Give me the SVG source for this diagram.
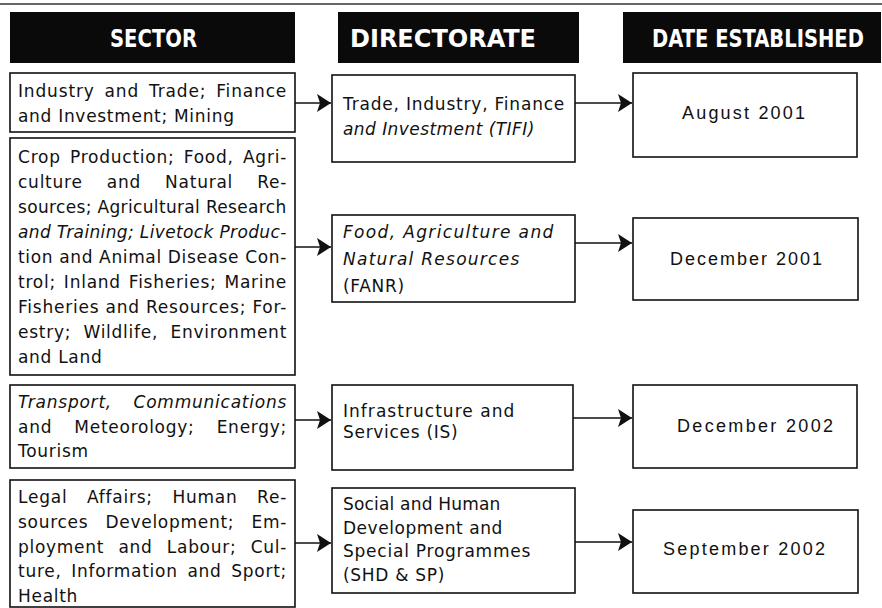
<svg xmlns="http://www.w3.org/2000/svg" width="882" height="608" viewBox="0 0 882 608">
<style>
.bg{fill:#ffffff}
.box{fill:#ffffff;stroke:#111;stroke-width:1.6}
.hdr{fill:#0a0a0a}
.ht{font-family:"DejaVu Sans Condensed","DejaVu Sans",sans-serif;font-weight:bold;font-size:24px;fill:#ffffff}
.t{font-family:"DejaVu Sans",sans-serif;font-size:17px;fill:#111;letter-spacing:0.7px}
.i{font-style:italic}
.d{font-family:"Liberation Sans",Arial,sans-serif;font-size:18px;fill:#111}
.ln{stroke:#111;stroke-width:1.6;fill:none}
</style>
<defs>
<marker id="ah" markerWidth="14" markerHeight="18" refX="14" refY="9" orient="auto" markerUnits="userSpaceOnUse">
<path d="M0,0 L14,9 L0,18 L3,9 Z" fill="#111"/>
</marker>
</defs>
<rect class="bg" x="0" y="0" width="882" height="608"/>
<line x1="0" y1="4" x2="882" y2="4" stroke="#333" stroke-width="1.5"/>

<g id="header-sector">
<rect class="hdr" x="10" y="12" width="285" height="51"/>
<text class="ht" transform="translate(110,47) scale(0.9,1)" x="0" y="0" textLength="96.7" lengthAdjust="spacingAndGlyphs">SECTOR</text>
</g>
<g id="header-directorate">
<rect class="hdr" x="338" y="12" width="241" height="51"/>
<text class="ht" transform="translate(350,47) scale(0.9,1)" x="0" y="0" textLength="206.7" lengthAdjust="spacingAndGlyphs">DIRECTORATE</text>
</g>
<g id="header-date">
<rect class="hdr" x="623" y="12" width="258" height="51"/>
<text class="ht" transform="translate(652,47) scale(0.9,1)" x="0" y="0" textLength="235.5" lengthAdjust="spacingAndGlyphs">DATE ESTABLISHED</text>
</g>

<g id="sector-1">
<rect class="box" x="10" y="73" width="285" height="59"/>
<text class="t" x="18" y="97" textLength="269" lengthAdjust="spacing" word-spacing="3.6">Industry and Trade; Finance</text>
<text class="t" x="18" y="122">and Investment; Mining</text>
</g>
<g id="sector-2">
<rect class="box" x="10" y="138" width="285" height="237"/>
<text class="t" x="18" y="163" textLength="269" lengthAdjust="spacing" word-spacing="3.1">Crop Production; Food, Agri-</text>
<text class="t" x="18" y="188" textLength="269" lengthAdjust="spacing" word-spacing="17.9">culture and Natural Re-</text>
<text class="t" x="18" y="213" textLength="269" lengthAdjust="spacing">sources; Agricultural Research</text>
<text class="t i" x="18" y="238" textLength="269" lengthAdjust="spacing">and Training; Livetock Produc-</text>
<text class="t" x="18" y="263" textLength="269" lengthAdjust="spacing">tion and Animal Disease Con-</text>
<text class="t" x="18" y="288" textLength="269" lengthAdjust="spacing" word-spacing="1.8">trol; Inland Fisheries; Marine</text>
<text class="t" x="18" y="313" textLength="269" lengthAdjust="spacing">Fisheries and Resources; For-</text>
<text class="t" x="18" y="338" textLength="269" lengthAdjust="spacing" word-spacing="6.2">estry; Wildlife, Environment</text>
<text class="t" x="18" y="363">and Land</text>
</g>
<g id="sector-3">
<rect class="box" x="10" y="385" width="285" height="83"/>
<text class="t i" x="18" y="408" textLength="269" lengthAdjust="spacing" word-spacing="15.4">Transport, Communications</text>
<text class="t" x="18" y="433" textLength="269" lengthAdjust="spacing" word-spacing="16">and Meteorology; Energy;</text>
<text class="t" x="18" y="457">Tourism</text>
</g>
<g id="sector-4">
<rect class="box" x="10" y="480" width="285" height="127"/>
<text class="t" x="18" y="503" textLength="269" lengthAdjust="spacing" word-spacing="13.4">Legal Affairs; Human Re-</text>
<text class="t" x="18" y="528" textLength="269" lengthAdjust="spacing" word-spacing="11">sources Development; Em-</text>
<text class="t" x="18" y="553" textLength="269" lengthAdjust="spacing" word-spacing="8.3">ployment and Labour; Cul-</text>
<text class="t" x="18" y="577" textLength="269" lengthAdjust="spacing" word-spacing="3.6">ture, Information and Sport;</text>
<text class="t" x="18" y="602">Health</text>
</g>

<g id="directorate-1">
<rect class="box" x="332" y="75" width="243" height="87"/>
<text class="t" x="343" y="110" textLength="222" lengthAdjust="spacing">Trade, Industry, Finance</text>
<text class="t i" x="343" y="135" textLength="192" lengthAdjust="spacing">and Investment (TIFI)</text>
</g>
<g id="directorate-2">
<rect class="box" x="332" y="215" width="243" height="87"/>
<text class="t i" x="343" y="238" textLength="211" lengthAdjust="spacing">Food, Agriculture and</text>
<text class="t i" x="343" y="265" textLength="177" lengthAdjust="spacing">Natural Resources</text>
<text class="t" x="343" y="292">(FANR)</text>
</g>
<g id="directorate-3">
<rect class="box" x="332" y="385" width="241" height="85"/>
<text class="t" x="343" y="417" textLength="172" lengthAdjust="spacing">Infrastructure and</text>
<text class="t" x="343" y="438">Services (IS)</text>
</g>
<g id="directorate-4">
<rect class="box" x="332" y="488" width="243" height="105"/>
<text class="t" x="343" y="510" textLength="158" lengthAdjust="spacing">Social and Human</text>
<text class="t" x="343" y="534" textLength="160" lengthAdjust="spacing">Development and</text>
<text class="t" x="343" y="557" textLength="188" lengthAdjust="spacing">Special Programmes</text>
<text class="t" x="343" y="581">(SHD &amp; SP)</text>
</g>

<g id="date-1">
<rect class="box" x="633" y="73" width="224" height="84"/>
<text class="d" x="682" y="119" textLength="123" lengthAdjust="spacing">August  2001</text>
</g>
<g id="date-2">
<rect class="box" x="633" y="218" width="225" height="82"/>
<text class="d" x="670" y="265" textLength="152" lengthAdjust="spacing">December  2001</text>
</g>
<g id="date-3">
<rect class="box" x="633" y="385" width="224" height="83"/>
<text class="d" x="677" y="432" textLength="156" lengthAdjust="spacing">December  2002</text>
</g>
<g id="date-4">
<rect class="box" x="633" y="510" width="225" height="83"/>
<text class="d" x="663" y="555" textLength="162" lengthAdjust="spacing">September  2002</text>
</g>

<g id="connectors">
<line class="ln" x1="295" y1="103" x2="331" y2="103" marker-end="url(#ah)"/>
<line class="ln" x1="295" y1="247" x2="331" y2="247" marker-end="url(#ah)"/>
<line class="ln" x1="295" y1="420" x2="331" y2="420" marker-end="url(#ah)"/>
<line class="ln" x1="295" y1="543" x2="331" y2="543" marker-end="url(#ah)"/>
<line class="ln" x1="575" y1="103" x2="632" y2="103" marker-end="url(#ah)"/>
<line class="ln" x1="575" y1="243" x2="632" y2="243" marker-end="url(#ah)"/>
<line class="ln" x1="573" y1="418" x2="632" y2="418" marker-end="url(#ah)"/>
<line class="ln" x1="575" y1="542" x2="632" y2="542" marker-end="url(#ah)"/>
</g>
</svg>
